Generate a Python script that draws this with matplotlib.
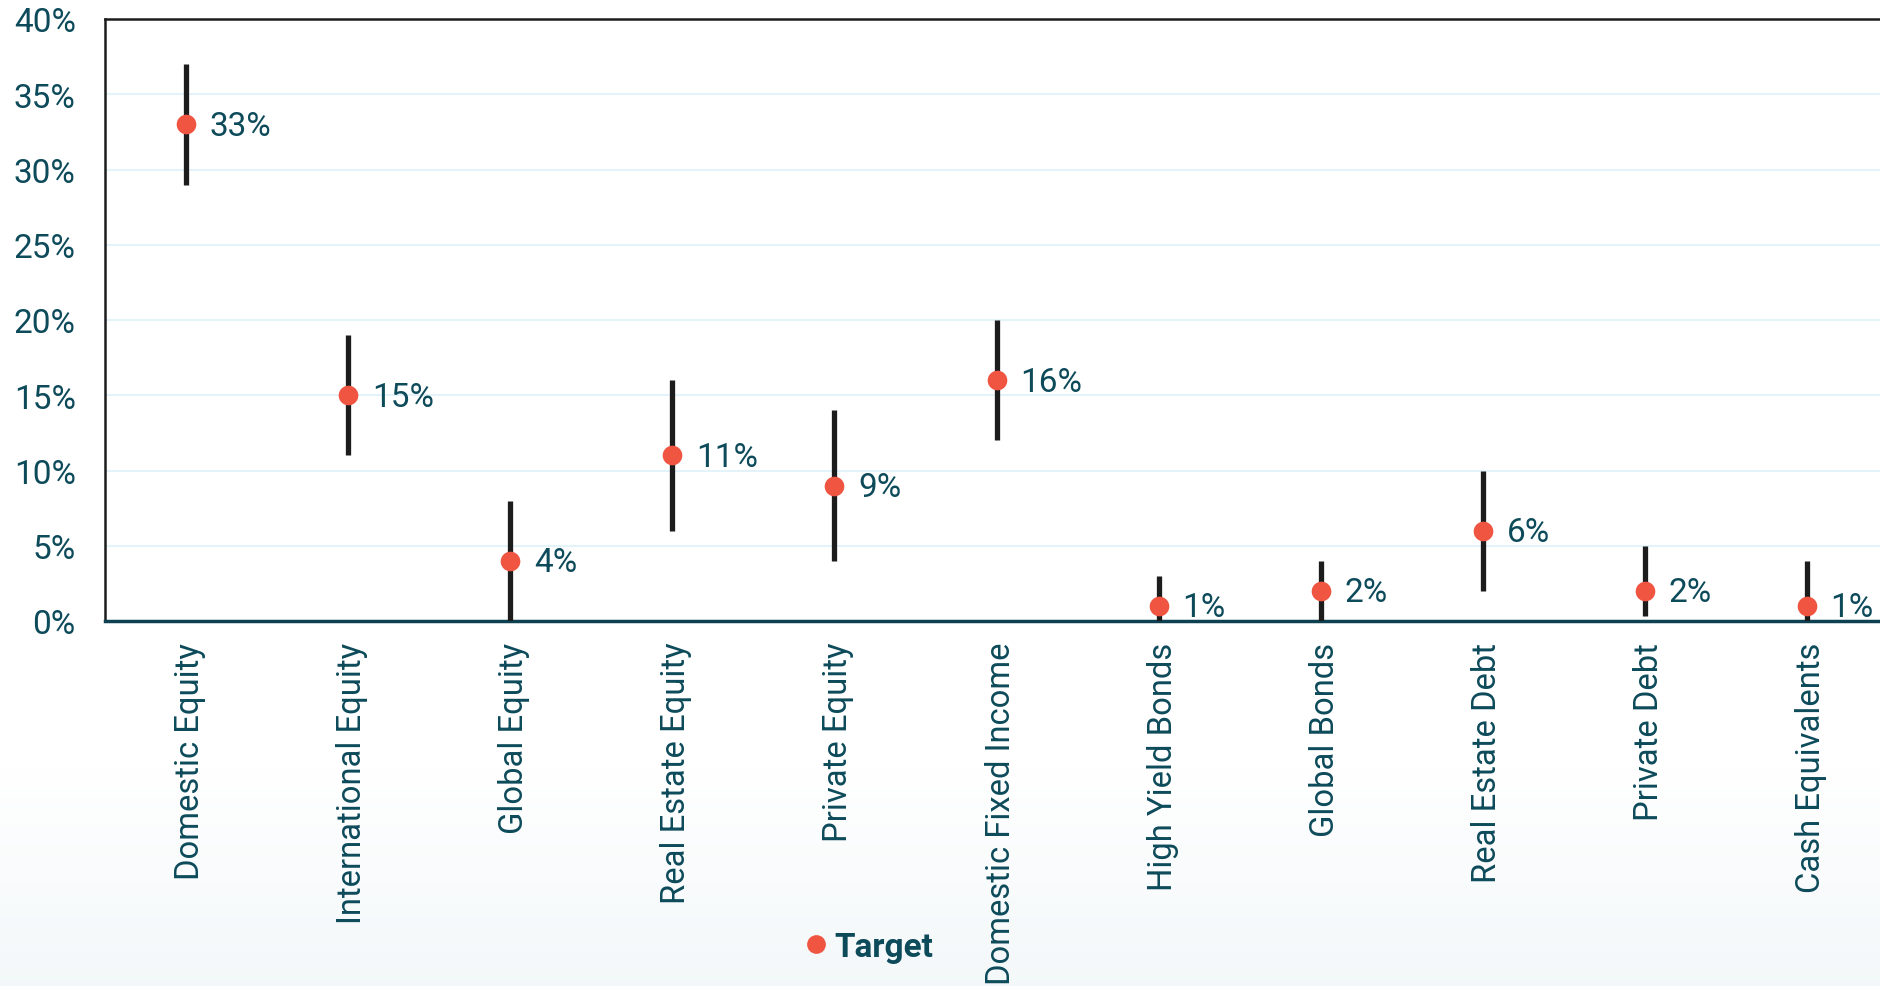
import numpy as np
import matplotlib
matplotlib.use("Agg")
import matplotlib.pyplot as plt
from matplotlib.lines import Line2D
from matplotlib.transforms import ScaledTranslation

plt.rcParams['font.family'] = ['Roboto', 'DejaVu Sans']

categories = ["Domestic Equity", "International Equity", "Global Equity",
              "Real Estate Equity", "Private Equity", "Domestic Fixed Income",
              "High Yield Bonds", "Global Bonds", "Real Estate Debt",
              "Private Debt", "Cash Equivalents"]
target = [33, 15, 4, 11, 9, 16, 1, 2, 6, 2, 1]
range_low = [29, 11, 0, 6, 4, 12, 0, 0, 2, 0.3, 0]
range_high = [37, 19, 8, 16, 14, 20, 3, 4, 10, 5, 4]
y_ticks = [0, 5, 10, 15, 20, 25, 30, 35, 40]

TEXT = "#0d4a5a"
RED = "#ef5541"
DARK = "#1c1c1c"
FS = 24

fig = plt.figure(figsize=(18.8, 9.87), dpi=100)

# soft background wash toward the bottom of the figure
bg = fig.add_axes([0, 0, 1, 1], zorder=-10)
grad = np.ones((200, 1, 3))
t = np.linspace(0, 1, 200)
start = 0.78
w = np.clip((t - start) / (1 - start), 0, 1)
base = np.array([0.955, 0.972, 0.978])
for c in range(3):
    grad[:, 0, c] = 1 - w * (1 - base[c])
bg.imshow(grad, aspect='auto', extent=[0, 1, 0, 1], origin='upper')
bg.set_axis_off()

ax = fig.add_axes([105 / 1880, 1 - 622 / 987, 1783 / 1880, 602 / 987])
ax.set_facecolor('white')
x = np.arange(len(categories))

ax.vlines(x, range_low, range_high, colors=DARK, linewidth=3.8,
          capstyle='butt', zorder=3)
ax.scatter(x, target, s=200, color=RED, zorder=4, linewidths=0)
for xi, v in zip(x, target):
    ax.annotate(f"{v}%", (xi, v), xytext=(17, -1), textcoords='offset points',
                ha='left', va='center', fontsize=FS, color=TEXT, zorder=5)

ax.set_xlim(-0.5, len(categories) - 0.5)
ax.set_ylim(0, 40)
ax.set_yticks(y_ticks)
ax.set_yticklabels([f"{v}%" for v in y_ticks])
ax.set_xticks(x)
ax.set_xticklabels(categories, rotation=90, va='top', ha='center',
                   fontsize=23.6)
ax.tick_params(axis='both', length=0, labelsize=FS, labelcolor=TEXT)
ax.tick_params(axis='x', labelsize=23.6)
ax.tick_params(axis='y', pad=21)
ax.tick_params(axis='x', pad=15)

# nudge the rotated category labels slightly to the right of their ticks
shift = ScaledTranslation(4 / 100, 0, fig.dpi_scale_trans)
for lbl in ax.get_xticklabels():
    lbl.set_transform(lbl.get_transform() + shift)

ax.grid(axis='y', color='#e4f2fa', linewidth=1.5)
ax.set_axisbelow(True)
for s in ['top', 'left']:
    ax.spines[s].set_color(DARK)
    ax.spines[s].set_linewidth(1.8)
ax.spines['bottom'].set_color('#0d4050')
ax.spines['bottom'].set_linewidth(2.5)
ax.spines['right'].set_visible(False)

handle = Line2D([], [], marker='o', linestyle='none', markersize=13.5,
                markerfacecolor=RED, markeredgewidth=0)
leg = fig.legend(handles=[handle], labels=["Target"], loc='center',
                 bbox_to_anchor=(870 / 1880, 1 - 948 / 987), frameon=False,
                 handlelength=0.6, handletextpad=0.25,
                 prop={'size': FS, 'weight': 'bold'})
for txt in leg.get_texts():
    txt.set_color(TEXT)

fig.savefig("out.png", dpi=100)
